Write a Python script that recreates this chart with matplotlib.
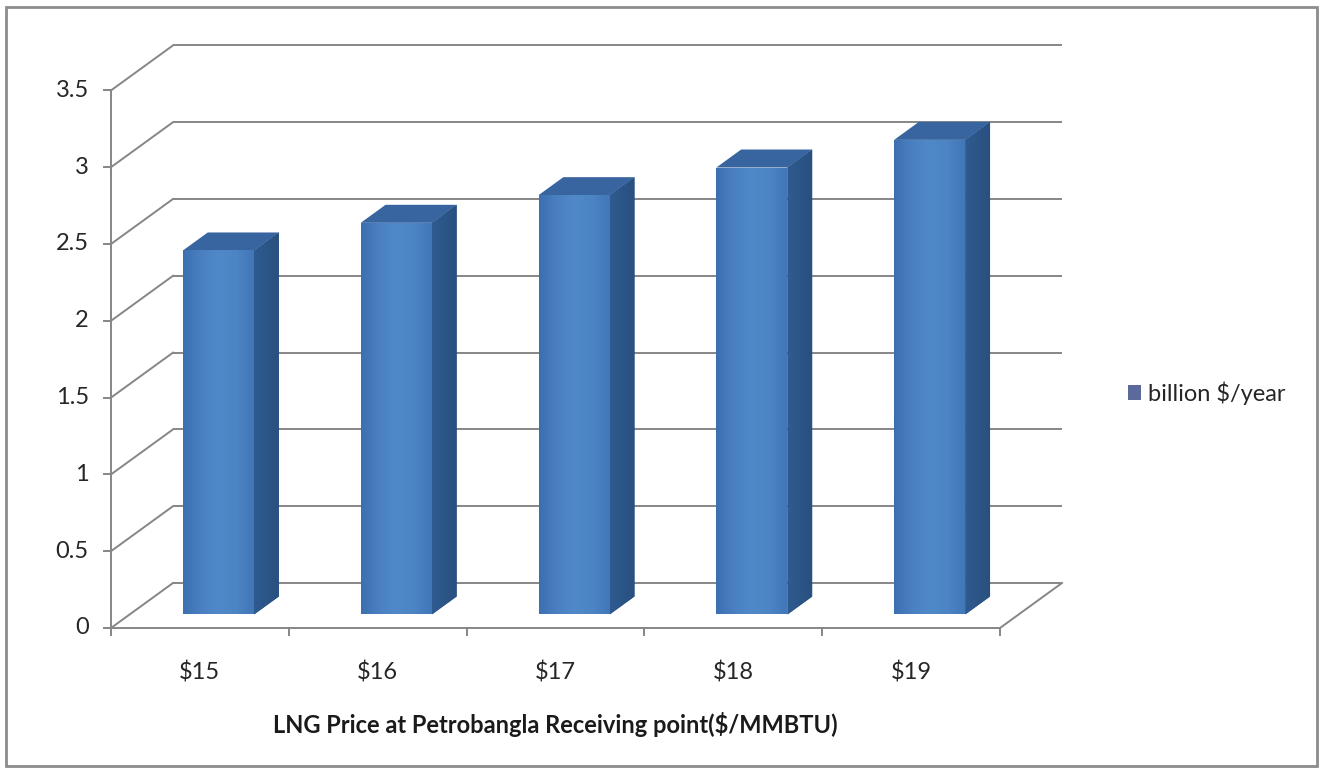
import numpy as np
import matplotlib
matplotlib.use("Agg")
import matplotlib.pyplot as plt
from matplotlib.patches import Polygon, Rectangle, Patch
from matplotlib.colors import LinearSegmentedColormap

# Data
categories = ["$15", "$16", "$17", "$18", "$19"]
values = [2.37, 2.55, 2.73, 2.91, 3.09]
series_name = "billion $/year"
y_ticks = [0, 0.5, 1, 1.5, 2, 2.5, 3, 3.5]
y_tick_labels = ["0", "0.5", "1", "1.5", "2", "2.5", "3", "3.5"]
x_title = "LNG Price at Petrobangla Receiving point($/MMBTU)"

# Oblique projection: depth 0 = front plane, depth 1 = back wall
DX, DY = 0.3487, 0.293        # data-unit shift for full depth
BAR_W0, BAR_W1 = 0.30, 0.70   # bar span within a category
BAR_D0, BAR_D1 = 0.30, 0.70   # bar span in depth
YMAX = 3.5
N = len(categories)

GRID = "#868686"
SIDE = "#2D5789"
TOP = "#38649F"
front_cmap = LinearSegmentedColormap.from_list(
    "front", ["#3C70B0", "#4A80C2", "#5089C8", "#4C84C4", "#4176B7"])
side_cmap = LinearSegmentedColormap.from_list("side", ["#2F5B90", "#29507F"])

plt.rcParams["font.family"] = ["Lato", "DejaVu Sans"]
FS = 17

W, H = 1323, 772
fig = plt.figure(figsize=(W / 100, H / 100), dpi=100)
ax = fig.add_axes([0, 0, 1, 1])
ax.set_xlim(-111 / 177.8, (W - 111) / 177.8)
ax.set_ylim(-144 / 153.6, (H - 144) / 153.6)
ax.axis("off")
ax.set_autoscale_on(False)


def proj(x, v, d):
    return x + d * DX, v + d * DY


def seg(p, q, **kw):
    ax.plot([p[0], q[0]], [p[1], q[1]], **kw)


lw = 1.4
# Back wall gridlines and side wall diagonals
for v in y_ticks:
    seg(proj(0, v, 1), proj(N, v, 1), color=GRID, lw=lw, zorder=1, solid_capstyle="butt")
    seg(proj(0, v, 0), proj(0, v, 1), color=GRID, lw=lw, zorder=1)

# Floor edges
seg(proj(0, 0, 0), proj(N, 0, 0), color=GRID, lw=lw, zorder=1)
seg(proj(N, 0, 0), proj(N, 0, 1), color=GRID, lw=lw, zorder=1)
# Front value axis
seg(proj(0, 0, 0), proj(0, YMAX, 0), color=GRID, lw=lw, zorder=1)

# Value-axis ticks and labels
for v, lab in zip(y_ticks, y_tick_labels):
    seg((-0.04, v), (0, v), color=GRID, lw=lw, zorder=1)
    ax.text(-0.125, v, lab, ha="right", va="center", fontsize=FS, color="#262626")

# Category ticks and labels
for i in range(N + 1):
    seg((i, 0), (i, -0.045), color=GRID, lw=lw, zorder=1)
for i, lab in enumerate(categories):
    ax.text(i + 0.5, -0.29, lab, ha="center", va="center", fontsize=FS, color="#262626")

ax.text(2.5, -0.63, x_title, ha="center", va="center",
        fontsize=FS, fontweight="bold", color="#1a1a1a")

grad = np.linspace(0, 1, 64).reshape(1, -1)

# 3-D columns
for i, v in enumerate(values):
    x0, x1 = i + BAR_W0, i + BAR_W1
    fl_b = proj(x0, 0, BAR_D0)
    fr_b = proj(x1, 0, BAR_D0)
    fr_t = proj(x1, v, BAR_D0)
    fl_t = proj(x0, v, BAR_D0)
    br_b = proj(x1, 0, BAR_D1)
    br_t = proj(x1, v, BAR_D1)
    bl_t = proj(x0, v, BAR_D1)

    side = Polygon([fr_b, br_b, br_t, fr_t], closed=True,
                   facecolor=SIDE, edgecolor="none", zorder=3)
    ax.add_patch(side)
    im = ax.imshow(grad, cmap=side_cmap, aspect="auto", interpolation="bilinear",
                   extent=(fr_b[0], br_b[0], fr_b[1], br_t[1]), zorder=3.1)
    im.set_clip_path(side)

    ax.add_patch(Polygon([fl_t, fr_t, br_t, bl_t], closed=True,
                         facecolor=TOP, edgecolor="none", zorder=3))

    front = Polygon([fl_b, fr_b, fr_t, fl_t], closed=True,
                    facecolor="#4A7EBC", edgecolor="none", zorder=4)
    ax.add_patch(front)
    im = ax.imshow(grad, cmap=front_cmap, aspect="auto", interpolation="bilinear",
                   extent=(fl_b[0], fr_b[0], fl_b[1], fl_t[1]), zorder=4.1)
    im.set_clip_path(front)

# Legend
leg = ax.legend(handles=[Patch(facecolor="#5B6A9B", edgecolor="none", label=series_name)],
                loc="center left", bbox_to_anchor=(1128 / W, 1 - 393 / H),
                bbox_transform=fig.transFigure, frameon=False, fontsize=FS,
                handlelength=0.55, handleheight=0.55, handletextpad=0.3,
                borderaxespad=0, borderpad=0)
for t in leg.get_texts():
    t.set_color("#262626")

# Chart border
fig.patches.append(Rectangle((6 / W, 6 / H), 1 - 12 / W, 1 - 13 / H,
                             transform=fig.transFigure, fill=False,
                             edgecolor="#8C8C8C", lw=2))

fig.savefig("out.png", dpi=100)
